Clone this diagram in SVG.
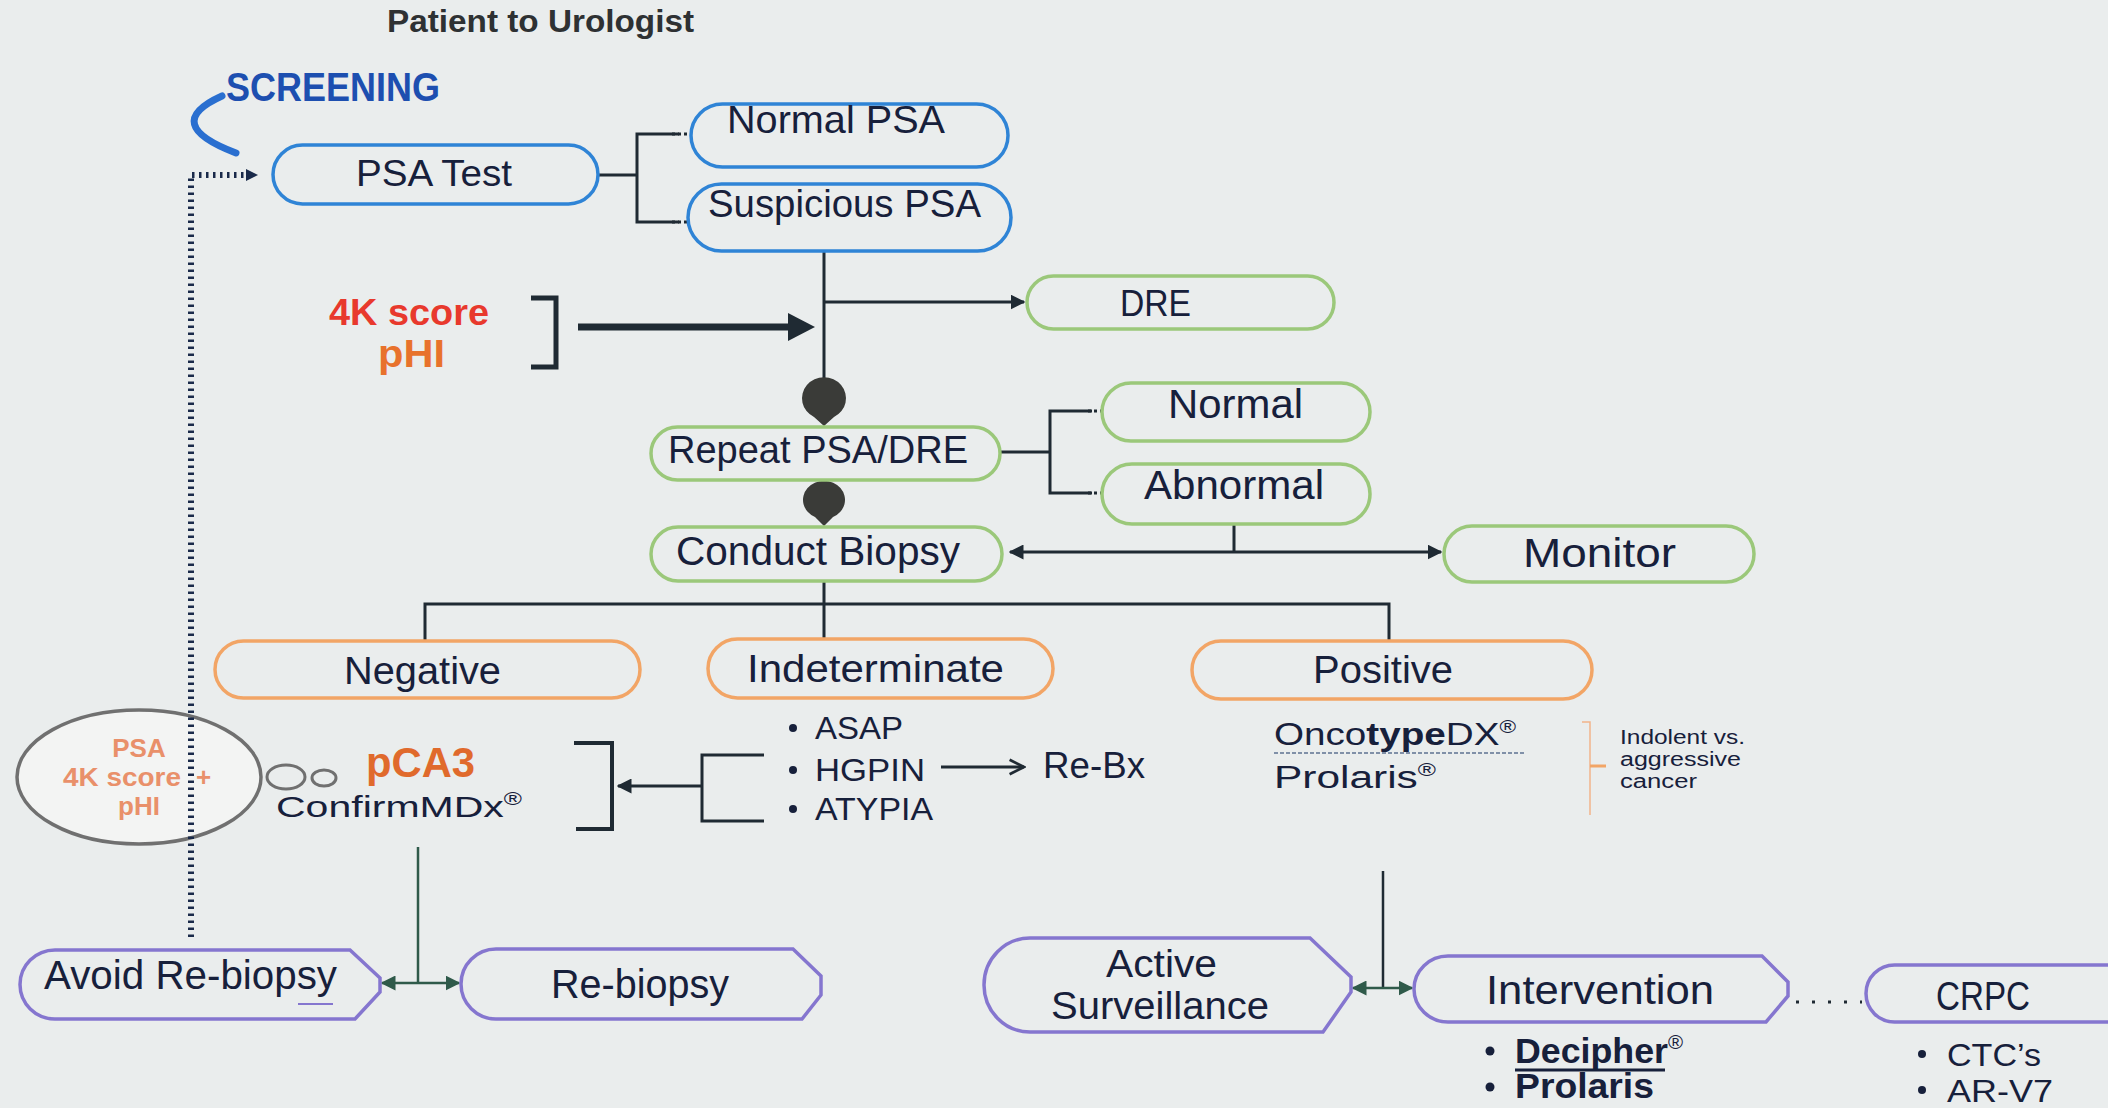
<svg xmlns="http://www.w3.org/2000/svg" width="2108" height="1108" viewBox="0 0 2108 1108">
<defs>
<style>
.lbl{font-family:"Liberation Sans",Arial,sans-serif;fill:#17203b}
.blue{fill:none;stroke:#2f84d6;stroke-width:3.5}
.green{fill:none;stroke:#9bc87a;stroke-width:3.5}
.orange{fill:none;stroke:#f2a566;stroke-width:3.5}
.purple{fill:none;stroke:#8576cf;stroke-width:3.5}
.ln{fill:none;stroke:#1f2a33;stroke-width:3}
.bold{font-weight:bold}
</style>
<marker id="ah" viewBox="0 0 10 10" refX="9" refY="5" markerWidth="5" markerHeight="5" orient="auto-start-reverse">
<path d="M0,0 L10,5 L0,10 z" fill="#1f2a33"/>
</marker>
<marker id="ao" viewBox="0 0 10 10" refX="9" refY="5" markerWidth="6" markerHeight="6" orient="auto">
<path d="M1,1 L9,5 L1,9" fill="none" stroke="#1f2a33" stroke-width="1.5"/>
</marker>
<marker id="ag" viewBox="0 0 10 10" refX="9" refY="5" markerWidth="6" markerHeight="6" orient="auto-start-reverse">
<path d="M0,0 L10,5 L0,10 z" fill="#2f5a4a"/>
</marker>
</defs>
<rect x="0" y="0" width="2108" height="1108" fill="#eaeded"/>

<g id="title">
<text x="387" y="32" class="lbl bold" font-size="31" textLength="307" lengthAdjust="spacingAndGlyphs" style="fill:#2e3133">Patient to Urologist</text>
</g>

<g id="screening">
<text x="226" y="101" class="lbl bold" font-size="40" textLength="214" lengthAdjust="spacingAndGlyphs" style="fill:#1d4fb0">SCREENING</text>
<path d="M222 96 Q160 124 236 153" fill="none" stroke="#2a6fd0" stroke-width="7" stroke-linecap="round"/>
</g>

<g id="markers-ellipse">
<ellipse cx="139" cy="777" rx="122" ry="67" fill="#f3f4f3" stroke="#707070" stroke-width="3.5"/>
<text x="139" y="757" text-anchor="middle" class="lbl bold" font-size="26" style="fill:#e9906a">PSA</text>
<text x="63" y="786" class="lbl bold" font-size="26" textLength="118" lengthAdjust="spacingAndGlyphs" style="fill:#e9906a">4K score</text>
<text x="196" y="786" class="lbl bold" font-size="26" style="fill:#e9906a">+</text>
<text x="139" y="815" text-anchor="middle" class="lbl bold" font-size="26" style="fill:#e9906a">pHI</text>
</g>

<g id="connectors">
<path d="M191 937 V175 H250" fill="none" stroke="#1a2a4a" stroke-width="6" stroke-dasharray="2.5 4.5"/>
<path d="M246 169 L258 175 L246 181 z" fill="#1a2a4a"/>
<path class="ln" d="M598 175 H637 M679 134 H637 V222 H679"/>
<path class="ln" d="M672 134 H688 M672 222 H688" stroke-dasharray="3 3"/>
<path class="ln" d="M824 251 V385"/>
<path class="ln" d="M824 302 H1024" marker-end="url(#ah)"/>
<path d="M531 298 H556 V367 H531" fill="none" stroke="#1f2a33" stroke-width="5"/>
<path d="M578 327 H792" stroke="#1f2a33" stroke-width="7"/>
<path d="M788 313 L815 327 L788 341 z" fill="#1f2a33"/>
<path d="M824 426 L814 417 A22 21 0 1 1 834 417 Z" fill="#3a3b38"/>
<path d="M824 526 L815 517 A21 19 0 1 1 833 517 Z" fill="#3a3b38"/>
<path class="ln" d="M1000 452 H1050 M1092 411 H1050 V493 H1092"/>
<path class="ln" d="M1088 411 H1102 M1088 493 H1102" stroke-dasharray="3 3"/>
<path class="ln" d="M1234 524 V552"/>
<path class="ln" d="M1234 552 H1010" marker-end="url(#ah)"/>
<path class="ln" d="M1234 552 H1441" marker-end="url(#ah)"/>
<path class="ln" d="M824 581 V639 M425 640 V604 H1389 V641"/>
<path d="M574 743 H612 V829 H576" fill="none" stroke="#1f2a33" stroke-width="4"/>
<path class="ln" d="M702 786 H618" marker-end="url(#ah)" stroke-width="2.5"/>
<path class="ln" d="M764 755 H702 V821 H764" stroke-width="2.5"/>
<path class="ln" d="M941 767 H1024" stroke-width="2" marker-end="url(#ao)"/>
<path d="M1582 722 H1590 V815" fill="none" stroke="#f2b48a" stroke-width="1.5"/>
<path d="M1590 766 H1606" stroke="#f2a566" stroke-width="3"/>
<path d="M418 847 V983" fill="none" stroke="#2f5a4a" stroke-width="2.5"/>
<path d="M382 983 H459" fill="none" stroke="#2f5a4a" stroke-width="2.5" marker-start="url(#ag)" marker-end="url(#ag)"/>
<path d="M1383 871 V988" fill="none" stroke="#1f2a33" stroke-width="2.5"/>
<path d="M1353 988 H1412" fill="none" stroke="#2f5a4a" stroke-width="2.5" marker-start="url(#ag)" marker-end="url(#ag)"/>
<path d="M1796 1002 H1862" stroke="#1f2a33" stroke-width="3" stroke-dasharray="3 13"/>
</g>

<g id="psa-test"><rect class="blue" x="273" y="145" width="325" height="59" rx="29.5"/>
<text class="lbl" x="356" y="186" font-size="37" textLength="156" lengthAdjust="spacingAndGlyphs">PSA Test</text></g>
<g id="normal-psa"><rect class="blue" x="691" y="104" width="317" height="63" rx="31.5"/>
<text class="lbl" x="727" y="133" font-size="39" textLength="218" lengthAdjust="spacingAndGlyphs">Normal PSA</text></g>
<g id="suspicious-psa"><rect class="blue" x="688" y="184" width="323" height="67" rx="33.5"/>
<text class="lbl" x="708" y="217" font-size="38" textLength="273" lengthAdjust="spacingAndGlyphs">Suspicious PSA</text></g>

<g id="biomarkers-4k">
<text class="lbl bold" x="329" y="325" font-size="37" textLength="160" lengthAdjust="spacingAndGlyphs" style="fill:#e8392d">4K score</text>
<text class="lbl bold" x="378" y="367" font-size="38" textLength="67" lengthAdjust="spacingAndGlyphs" style="fill:#e8722c">pHI</text>
</g>

<g id="dre"><rect class="green" x="1027" y="276" width="307" height="53" rx="26.5"/>
<text class="lbl" x="1120" y="316" font-size="37" textLength="71" lengthAdjust="spacingAndGlyphs">DRE</text></g>
<g id="repeat"><rect class="green" x="651" y="427" width="349" height="53" rx="26.5"/>
<text class="lbl" x="668" y="463" font-size="38" textLength="300" lengthAdjust="spacingAndGlyphs">Repeat PSA/DRE</text></g>
<g id="normal"><rect class="green" x="1102" y="383" width="268" height="58" rx="29"/>
<text class="lbl" x="1168" y="418" font-size="40" textLength="135" lengthAdjust="spacingAndGlyphs">Normal</text></g>
<g id="abnormal"><rect class="green" x="1102" y="464" width="268" height="60" rx="30"/>
<text class="lbl" x="1144" y="499" font-size="40" textLength="180" lengthAdjust="spacingAndGlyphs">Abnormal</text></g>
<g id="conduct-biopsy"><rect class="green" x="651" y="527" width="351" height="54" rx="27"/>
<text class="lbl" x="676" y="565" font-size="40" textLength="284" lengthAdjust="spacingAndGlyphs">Conduct Biopsy</text></g>
<g id="monitor"><rect class="green" x="1444" y="526" width="310" height="56" rx="28"/>
<text class="lbl" x="1523" y="567" font-size="40" textLength="153" lengthAdjust="spacingAndGlyphs">Monitor</text></g>

<g id="negative"><rect class="orange" x="215" y="641" width="425" height="57" rx="28.5"/>
<text class="lbl" x="344" y="684" font-size="38" textLength="157" lengthAdjust="spacingAndGlyphs">Negative</text></g>
<g id="indeterminate"><rect class="orange" x="708" y="639" width="345" height="59" rx="29.5"/>
<text class="lbl" x="747" y="682" font-size="38" textLength="257" lengthAdjust="spacingAndGlyphs">Indeterminate</text></g>
<g id="positive"><rect class="orange" x="1192" y="641" width="400" height="58" rx="29"/>
<text class="lbl" x="1313" y="683" font-size="38" textLength="140" lengthAdjust="spacingAndGlyphs">Positive</text></g>

<g id="pca3">
<ellipse cx="286" cy="777" rx="19" ry="12" fill="none" stroke="#707070" stroke-width="3"/>
<ellipse cx="324" cy="778" rx="12" ry="8" fill="none" stroke="#707070" stroke-width="3"/>
<text class="lbl bold" x="366" y="777" font-size="42" textLength="109" lengthAdjust="spacingAndGlyphs" style="fill:#e06a2c">pCA3</text>
<text class="lbl" x="276" y="817" font-size="30" textLength="246" lengthAdjust="spacingAndGlyphs">ConfirmMDx<tspan font-size="18" dy="-12">®</tspan></text>
</g>

<g id="indeterminate-list">
<circle cx="793" cy="728" r="4" fill="#17203b"/>
<circle cx="793" cy="770" r="4" fill="#17203b"/>
<circle cx="793" cy="809" r="4" fill="#17203b"/>
<text class="lbl" x="815" y="739" font-size="31" textLength="88" lengthAdjust="spacingAndGlyphs">ASAP</text>
<text class="lbl" x="815" y="781" font-size="31" textLength="110" lengthAdjust="spacingAndGlyphs">HGPIN</text>
<text class="lbl" x="815" y="820" font-size="31" textLength="118" lengthAdjust="spacingAndGlyphs">ATYPIA</text>
</g>
<g id="re-bx"><text class="lbl" x="1043" y="778" font-size="36" textLength="102" lengthAdjust="spacingAndGlyphs">Re-Bx</text></g>

<g id="positive-tests">
<text class="lbl" x="1274" y="745" font-size="31" textLength="242" lengthAdjust="spacingAndGlyphs">Onco<tspan font-weight="bold">type</tspan>DX<tspan font-size="18" dy="-12">®</tspan></text>
<path d="M1274 753 H1524" stroke="#8090a8" stroke-width="2" stroke-dasharray="4 2"/>
<text class="lbl" x="1274" y="788" font-size="31" textLength="162" lengthAdjust="spacingAndGlyphs">Prolaris<tspan font-size="18" dy="-12">®</tspan></text>
<text class="lbl" x="1620" y="744" font-size="20" textLength="125" lengthAdjust="spacingAndGlyphs">Indolent vs.</text>
<text class="lbl" x="1620" y="766" font-size="20" textLength="121" lengthAdjust="spacingAndGlyphs">aggressive</text>
<text class="lbl" x="1620" y="788" font-size="20" textLength="77" lengthAdjust="spacingAndGlyphs">cancer</text>
</g>

<g id="avoid-rebiopsy">
<path class="purple" d="M55 950 H350 L380 978 V992 L355 1019 H55 A35 34.5 0 0 1 55 950 Z"/>
<path d="M298 1004 H333" stroke="#8576cf" stroke-width="2"/>
<text class="lbl" x="44" y="989" font-size="40" textLength="293" lengthAdjust="spacingAndGlyphs">Avoid Re-biopsy</text></g>
<g id="rebiopsy">
<path class="purple" d="M496 949 H793 L821 976 V995 L802 1019 H496 A35 35 0 0 1 496 949 Z"/>
<text class="lbl" x="551" y="998" font-size="40" textLength="178" lengthAdjust="spacingAndGlyphs">Re-biopsy</text></g>
<g id="active-surveillance">
<path class="purple" d="M1030 938 H1310 L1351 977 V992 L1323 1032 H1030 A46 47 0 0 1 1030 938 Z"/>
<text class="lbl" x="1106" y="977" font-size="38" textLength="111" lengthAdjust="spacingAndGlyphs">Active</text>
<text class="lbl" x="1051" y="1019" font-size="38" textLength="218" lengthAdjust="spacingAndGlyphs">Surveillance</text></g>
<g id="intervention">
<path class="purple" d="M1448 956 H1762 L1788 982 V996 L1766 1022 H1448 A34 33 0 0 1 1448 956 Z"/>
<text class="lbl" x="1486" y="1004" font-size="40" textLength="228" lengthAdjust="spacingAndGlyphs">Intervention</text>
<circle cx="1490" cy="1051" r="4.5" fill="#17203b"/>
<circle cx="1490" cy="1087" r="4.5" fill="#17203b"/>
<text class="lbl bold" x="1515" y="1063" font-size="35" textLength="168" lengthAdjust="spacingAndGlyphs">Decipher<tspan font-size="20" dy="-14" font-weight="normal">®</tspan></text>
<path d="M1515 1070 H1665" stroke="#17203b" stroke-width="3"/>
<text class="lbl bold" x="1515" y="1098" font-size="35" textLength="139" lengthAdjust="spacingAndGlyphs">Prolaris</text></g>
<g id="crpc">
<rect class="purple" x="1866" y="965" width="280" height="57" rx="28.5"/>
<text class="lbl" x="1936" y="1010" font-size="40" textLength="94" lengthAdjust="spacingAndGlyphs">CRPC</text>
<circle cx="1922" cy="1054" r="4" fill="#17203b"/>
<circle cx="1922" cy="1090" r="4" fill="#17203b"/>
<text class="lbl" x="1947" y="1066" font-size="32" textLength="94" lengthAdjust="spacingAndGlyphs">CTC’s</text>
<text class="lbl" x="1947" y="1102" font-size="32" textLength="106" lengthAdjust="spacingAndGlyphs">AR-V7</text></g>
</svg>
